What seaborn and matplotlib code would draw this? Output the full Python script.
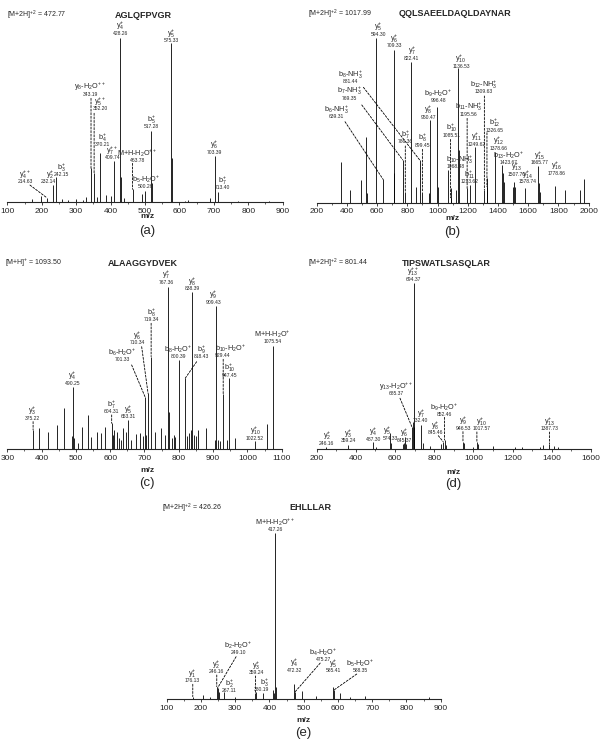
import numpy as np
import matplotlib
matplotlib.use("Agg")
import matplotlib.pyplot as plt
import seaborn as sns

# ---- (a) AGLQFPVGR
peaks_a_mz = [171, 198, 214.63, 232.14, 242.15, 260, 277, 300, 320, 330, 343.19, 352.20, 360,
              370.21, 388, 400, 409.74, 428.26, 429.8, 440, 463.78, 490, 500.26, 517.28, 519,
              575.33, 577, 615, 625, 688, 703.39, 713.40, 770, 860]
peaks_a_int = [2, 3.9, 2.8, 10.6, 15.7, 2, 1.5, 2, 1.5, 3, 20.7, 17.7, 3,
               29.9, 4.5, 4, 25.2, 100, 15.6, 2.5, 7.9, 5, 7.1, 43.7, 11.6,
               97.0, 26.8, 1, 1.5, 2.5, 28.5, 6.3, 0.6, 0.8]
ions_a = ["y$_4^{+}$", "y$_5^{+}$", "b$_5^{+}$", "y$_6^{+}$", "b$_7^{+}$", "b$_4^{+}$",
          "y$_7^{++}$", "y$_8$-H$_2$O$^{++}$", "y$_5^{++}$", "M+H-H$_2$O$^{++}$",
          "b$_5$-H$_2$O$^{+}$", "b$_3^{+}$", "y$_2^{+}$", "y$_4^{++}$"]
ion_mz_a = [428.26, 575.33, 517.28, 703.39, 713.40, 370.21, 409.74, 343.19, 352.20,
            463.78, 500.26, 242.15, 232.14, 214.63]

# ---- (b) QQLSAEELDAQLDAYNAR
peaks_b_mz = [360.20, 420, 493, 523.26, 530, 594.30, 639.31, 709.33, 712, 769.35, 786.36,
              822.41, 860, 881.44, 899.45, 940, 950.47, 996.48, 1005, 1068.48, 1085.51, 1090,
              1125, 1136.53, 1140, 1195.56, 1213.62, 1249.62, 1309.63, 1326.65, 1330, 1378.66,
              1423.67, 1430, 1440, 1500, 1507.70, 1512, 1578.74, 1665.77, 1670, 1680, 1778.86,
              1840, 1940, 1970]
peaks_b_int = [24.9, 7.7, 13.8, 40.2, 6.1, 100, 14.2, 92.9, 17.8, 26, 6.7,
               85.8, 9.3, 26, 6.7, 5.7, 50.3, 58.4, 9.7, 19.9, 3, 8.7,
               7.7, 81.7, 32, 8.7, 10.8, 34, 7.7, 9.7, 14.8, 31,
               22.9, 17.8, 12.8, 9.7, 12.8, 9.7, 8.7, 22.5, 11.8, 6.7, 10.3,
               7.7, 7.7, 14.4]
ions_b = ["y$_5^{+}$", "y$_6^{+}$", "y$_7^{+}$", "y$_{10}^{+}$", "b$_8$-NH$_3^{+}$",
          "b$_7$-NH$_3^{+}$", "b$_6$-NH$_3^{+}$", "b$_7^{+}$", "b$_8^{+}$", "y$_8^{+}$",
          "b$_9$-H$_2$O$^{+}$", "b$_{10}^{+}$", "b$_{10}$-NH$_3^{+}$", "b$_{11}$-NH$_3^{+}$",
          "b$_{11}^{+}$", "y$_{11}^{+}$", "b$_{12}$-NH$_3^{+}$", "b$_{12}^{+}$", "y$_{12}^{+}$",
          "b$_{13}$-H$_2$O$^{+}$", "y$_{13}^{+}$", "y$_{14}^{+}$", "y$_{15}^{+}$", "y$_{16}^{+}$"]
ion_mz_b = [594.30, 709.33, 822.41, 1136.53, 881.44, 769.35, 639.31, 786.36, 899.45, 950.47,
            996.48, 1085.51, 1068.48, 1195.56, 1213.62, 1249.62, 1309.63, 1326.65, 1378.66,
            1423.67, 1507.70, 1578.74, 1665.77, 1778.86]

# ---- (c) ALAAGGYDVEK
peaks_c_mz = [375.22, 392, 420, 445, 465, 488, 490.25, 495, 505, 518, 535, 545, 562, 572, 586,
              604.31, 608, 612, 620, 625, 632, 637, 645, 653.31, 660, 676, 688, 695, 701.33,
              705, 710.34, 719.34, 730, 748, 760, 767.36, 772, 780, 785, 790, 800.39, 818.43,
              825, 830, 835, 838.39, 845, 850, 855, 878, 905, 909.43, 915, 920, 929.44, 940,
              947.45, 965, 1022.52, 1058, 1075.54]
peaks_c_int = [11.9, 12.9, 10.5, 15, 25.6, 8, 38.5, 6.8, 4, 13.9, 21.1, 7.8, 10.9, 9.8, 13.9,
               16, 9, 11.9, 10.9, 7, 6, 12.9, 10.9, 18, 6, 9.4, 9.8, 8, 32.4,
               9, 34.4, 57, 10.9, 12.9, 9, 100, 23.2, 7, 9, 7.8, 54.9, 43.6,
               8, 10, 11.9, 96.5, 9, 8, 11.9, 12.9, 6, 88.1, 5.7, 5, 34, 6,
               43.6, 6.8, 5.1, 15.4, 63.5]
ions_c = ["y$_3^{+}$", "y$_4^{+}$", "b$_7^{+}$", "y$_5^{+}$", "b$_6$-H$_2$O$^{+}$", "y$_6^{+}$",
          "b$_8^{+}$", "y$_7^{+}$", "y$_8^{+}$", "y$_9^{+}$", "b$_8$-H$_2$O$^{+}$", "b$_9^{+}$",
          "b$_{10}$-H$_2$O$^{+}$", "b$_{10}^{+}$", "y$_{10}^{+}$", "M+H-H$_2$O$^{+}$"]
ion_mz_c = [375.22, 490.25, 604.31, 653.31, 701.33, 710.34, 719.34, 767.36, 838.39, 909.43,
            800.39, 818.43, 929.44, 947.45, 1022.52, 1075.54]

# ---- (d) TIPSWATLSASQLAR
peaks_d_mz = [246.16, 359.24, 487.30, 505, 574.33, 578, 640, 645.37, 652, 655, 685.37, 690,
              694.37, 697, 732.40, 740, 780, 836, 845.46, 852.46, 858, 946.53, 950, 1000,
              1017.57, 1022, 1100, 1210, 1250, 1340, 1357, 1387.73, 1410, 1430]
peaks_d_int = [1.6, 2.6, 4.6, 1.2, 9.6, 3.6, 3, 3.6, 7.6, 3.2, 13.7, 16.7,
               100, 13.7, 14.7, 3.6, 2, 3.2, 4.6, 5.6, 2.6, 4.2, 3.6, 1.6,
               4.6, 3.2, 2, 1.6, 1.2, 1.2, 2.6, 3.2, 2, 1.6]
ions_d = ["y$_{13}^{++}$", "y$_{13}$-H$_2$O$^{++}$", "y$_7^{+}$", "b$_9$-H$_2$O$^{+}$",
          "y$_8^{+}$", "y$_9^{+}$", "y$_{10}^{+}$", "y$_{13}^{+}$", "y$_6^{+}$", "y$_5^{+}$",
          "y$_4^{+}$", "y$_3^{+}$", "y$_2^{+}$"]
ion_mz_d = [694.37, 685.37, 732.40, 852.46, 845.46, 946.53, 1017.57, 1387.73, 645.37, 574.33,
            487.30, 359.24, 246.16]

# ---- (e) EHLLLAR
peaks_e_mz = [176.13, 205, 225, 246.16, 249.10, 252, 267.11, 300, 359.24, 362, 380.19, 410,
              413, 417.26, 420, 472.32, 475.27, 495, 535, 585.41, 588.35, 607, 635, 680, 865]
peaks_e_int = [1.6, 2.6, 1.6, 7.6, 7, 4.6, 4.6, 1.6, 3.6, 4.6, 3.6, 5.6,
               3.6, 100, 7.6, 9.2, 4.6, 5.2, 2, 7.2, 5.6, 4, 1.6, 2, 1.2]
ions_e = ["M+H-H$_2$O$^{++}$", "b$_2$-H$_2$O$^{+}$", "y$_2^{+}$", "b$_2^{+}$", "y$_1^{+}$",
          "y$_3^{+}$", "b$_3^{+}$", "y$_4^{+}$", "b$_4$-H$_2$O$^{+}$", "y$_5^{+}$",
          "b$_5$-H$_2$O$^{+}$"]
ion_mz_e = [417.26, 249.10, 246.16, 267.11, 176.13, 359.24, 380.19, 472.32, 475.27, 585.41,
            588.35]

titles = ["AGLQFPVGR", "QQLSAEELDAQLDAYNAR", "ALAAGGYDVEK", "TIPSWATLSASQLAR", "EHLLLAR"]
precursors = ["[M+2H]$^{+2}$ = 472.77", "[M+2H]$^{+2}$ = 1017.99", "[M+H]$^{+}$ = 1093.50",
              "[M+2H]$^{+2}$ = 801.44", "[M+2H]$^{+2}$ = 426.26"]
panel_tags = ["(a)", "(b)", "(c)", "(d)", "(e)"]

# label layout: (dx, dy) of mass text in points from peak top, optional leader start (lx, ly)
offs_a = [(-0.2, 3.6), (0, 1.9), (0, 2.9), (-0.5, 2.4), (3.1, 3.1), (1.7, 6.0), (-1.0, 2.4),
          (-0.7, 53.5, 0, 50.4), (4.2, 46.3, 0, 43.2), (3.5, 21.1, 0, 18.7), (0.4, 2.9),
          (3.9, 1.2), (-3.2, 2.4), (-15.7, 11.5, -12.1, 9.1)]
offs_b = [(1.7, 2.9), (0.5, 2.9), (0.7, 2.4), (2, 1.7), (-50.1, 56.4, -40.5, 52.3),
          (-38.4, 44.2, -29.5, 39.6), (-33.4, 45.1, -27.4, 41.5), (-0.2, 36, 0, 32.9),
          (0, 33.6, 0, 30.5), (-1.5, 2), (1, 4.3), (0.9, 45.1, 0, 42), (5.8, 2.4),
          (0.9, 53.3, 0, 50.4), (0, 2.4), (1, 1.9), (-0.7, 70.8, 0, 67.7), (5.8, 40.8, 0, 38.9),
          (2.5, 2.4), (4.9, 2), (1.7, 5.3), (1.9, 4.8), (0.9, 2), (1, 8.9)]
offs_c = [(-0.6, 8.4, 0, 6), (0, 2.4), (0, 8.4, 0, 6), (0, 2.4), (-16.1, 26.4, -9.6, 22.8),
          (-7.7, 36.5, -4.6, 33.6), (0.4, 26.4, 0, 24), (-0.7, 3.1), (0.2, 2.6), (-2.2, 2.6),
          (-0.5, 2.4), (11.9, 15.6, 8.3, 12), (-0.4, 27.6, 0, 25), (0, 2.4), (0, 1.9),
          (-0.5, 3.1)]
offs_d = [(-0.2, 2.9), (-10.9, 23.5, -8.5, 20.4), (-0.2, 2.9), (0, 18.7, 0, 16.3),
          (-5.9, 6.5, -3.5, 4.3), (0, 10.1, 0, 7.7), (3.4, 9.4, 0, 7), (0, 11, 0, 8.6), (0, 2),
          (0, -3.6), (0.3, 1.7), (0.3, 2.9), (0.7, 2.4)]
offs_e = [(0, 2.9), (14.9, 25.2, 13.2, 22.3), (-0.5, 10.8, 0, 8.4), (3.7, 0.5),
          (-0.3, 11.5, 0, 8.9), (0.4, 14.9, 0, 12.5), (-0.7, 2.4), (0, 10.1),
          (20.3, 23.5, 18, 20.6), (0, 12), (18.8, 14.4, 16.4, 11.5)]
ion_shift_a = {12: (1.2, 0)}
ion_shift_b = {12: (2.4, 0)}
ion_shift_c = {12: (6, 0)}
ion_shift_d = {9: (-1.9, 0)}
ion_shift_e = {6: (2, 0)}

sns.set_style("ticks")
plt.rcParams["font.family"] = ["Liberation Sans", "DejaVu Sans"]
plt.rcParams["mathtext.default"] = "regular"

W, H = 600, 741
fig = plt.figure(figsize=(6, 7.41), dpi=100)


def px_rect(x0, x1, y0, y1):
    return [x0 / W, 1 - y1 / H, (x1 - x0) / W, (y1 - y0) / H]


def fig_text(x, y, s, **kw):
    fig.text(x / W, 1 - y / H, s, va="center", **kw)


def draw_panel(rect, xlim, major, minor, mz, inten, ions, ion_mz, offs, ion_shift):
    ax = fig.add_axes(rect)
    ax.vlines(mz, 0, inten, color="black", lw=0.6)
    ax.set_xlim(*xlim)
    ax.set_ylim(0, 100)
    ax.set_xticks(np.arange(xlim[0], xlim[1] + 1, major))
    ax.set_xticks(np.arange(xlim[0], xlim[1] + 1, minor), minor=True)
    ax.set_yticks([])
    sns.despine(ax=ax, left=True)
    ax.spines["bottom"].set_linewidth(0.8)
    ax.tick_params(axis="x", which="major", direction="out", length=2.5, width=0.6,
                   labelsize=6, pad=1.5)
    ax.tick_params(axis="x", which="minor", direction="out", length=1.5, width=0.5)
    mz_arr = np.asarray(mz)
    int_arr = np.asarray(inten)
    for i, (lab, m, off) in enumerate(zip(ions, ion_mz, offs)):
        y = int_arr[np.argmin(np.abs(mz_arr - m))]
        dx, dy = off[0], off[1]
        ax.annotate(f"{m:.2f}", xy=(m, y), xytext=(dx, dy), textcoords="offset points",
                    ha="center", va="center", fontsize=3.6, annotation_clip=False)
        sx, sy = ion_shift.get(i, (0, 0))
        ax.annotate(lab, xy=(m, y), xytext=(dx + sx, dy + 5.2 + sy), textcoords="offset points",
                    ha="center", va="center", fontsize=5.2, annotation_clip=False)
        if len(off) == 4:
            ax.annotate("", xy=(m, y), xytext=(off[2], off[3]), textcoords="offset points",
                        annotation_clip=False,
                        arrowprops=dict(arrowstyle="-", lw=0.6, color="black",
                                        linestyle=(0, (2.5, 1.8)), shrinkA=0, shrinkB=0))
    return ax


draw_panel(px_rect(7.3, 282.7, 38.3, 202.3), (100, 900), 100, 50,
           peaks_a_mz, peaks_a_int, ions_a, ion_mz_a, offs_a, ion_shift_a)
draw_panel(px_rect(316.7, 588.7, 38.3, 202.7), (200, 2000), 200, 100,
           peaks_b_mz, peaks_b_int, ions_b, ion_mz_b, offs_b, ion_shift_b)
draw_panel(px_rect(7.3, 281.7, 286.7, 449.3), (300, 1100), 100, 50,
           peaks_c_mz, peaks_c_int, ions_c, ion_mz_c, offs_c, ion_shift_c)
draw_panel(px_rect(316.7, 591, 283.3, 449.3), (200, 1600), 200, 100,
           peaks_d_mz, peaks_d_int, ions_d, ion_mz_d, offs_d, ion_shift_d)
draw_panel(px_rect(166.7, 440.7, 533.3, 699.3), (100, 900), 100, 50,
           peaks_e_mz, peaks_e_int, ions_e, ion_mz_e, offs_e, ion_shift_e)

# header texts and axis captions, in pixel positions
prec_pos = [(7, 15), (308, 14), (5, 263), (308, 263), (162, 508)]
title_pos = [(143, 15), (455, 14), (143, 263), (446, 263), (310, 508)]
mz_pos = [(147, 217), (452, 218), (147, 470), (453, 472), (303, 720)]
tag_pos = [(147, 231), (452, 232), (147, 483), (453, 484), (303, 733)]

for i in range(5):
    fig_text(*prec_pos[i], precursors[i], ha="left", fontsize=5)
    fig_text(*title_pos[i], titles[i], ha="center", fontsize=6.5, fontweight="bold")
    fig_text(*mz_pos[i], "m/z", ha="center", fontsize=6, fontweight="bold")
    fig_text(*tag_pos[i], panel_tags[i], ha="center", fontsize=9.5)

fig.savefig("out.png", dpi=100)
